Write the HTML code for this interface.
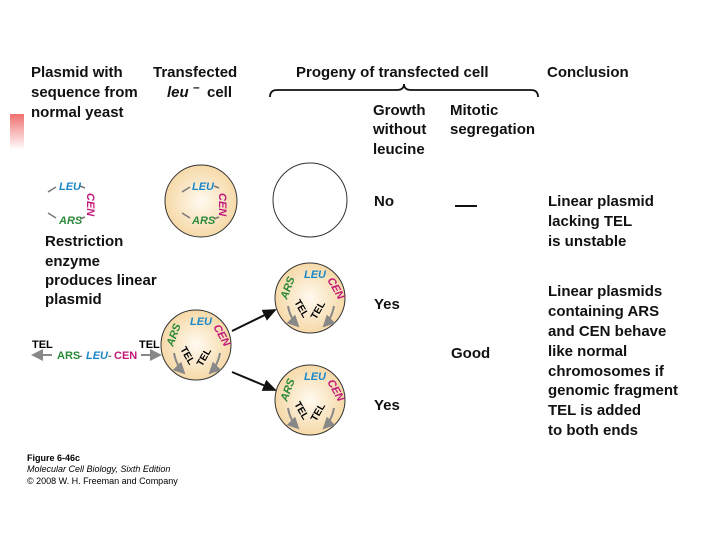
<!DOCTYPE html>
<html><head><style>
body{margin:0;background:#fff}
svg{display:block}
text{font-family:"Liberation Sans",sans-serif;font-weight:bold}
.h{font-size:15px;fill:#111}
.s{font-size:11px;font-style:italic}
.g{fill:#2a8a3a}.b{fill:#1a86c8}.m{fill:#c0177a}
</style></head><body>
<svg width="720" height="540" viewBox="0 0 720 540">
<defs>
<radialGradient id="cg" cx="50%" cy="50%" r="50%"><stop offset="0" stop-color="#fffaf0"/><stop offset="1" stop-color="#f6d9a8"/></radialGradient>
<linearGradient id="rg" x1="0" y1="0" x2="0" y2="1"><stop offset="0" stop-color="#f07070"/><stop offset="1" stop-color="#fff"/></linearGradient>
<marker id="ah" markerWidth="8" markerHeight="8" refX="6" refY="3" orient="auto"><path d="M0,0 L7,3 L0,6 z" fill="#111"/></marker>
<marker id="gh" markerWidth="8" markerHeight="8" refX="5" refY="3" orient="auto"><path d="M0,0 L6,3 L0,6 z" fill="#888"/></marker>
<g id="c1">
<circle cx="0" cy="0" r="35" fill="url(#cg)" stroke="#333"/>
<text x="-23" y="2" class="s g" transform="rotate(-70 -23 2)">ARS</text>
<text x="-6" y="-20" class="s b">LEU</text>
<text x="17" y="-18" class="s m" transform="rotate(60 17 -18)">CEN</text>
<text x="-16" y="4" style="font-size:10px" transform="rotate(60 -16 4)">TEL</text>
<text x="6" y="22" style="font-size:10px" transform="rotate(-60 6 22)">TEL</text>
<path d="M-22,8 Q-20,20 -12,28" fill="none" stroke="#888" stroke-width="2" marker-end="url(#gh)"/>
<path d="M24,8 Q22,20 14,28" fill="none" stroke="#888" stroke-width="2" marker-end="url(#gh)"/>
</g>
</defs>
<rect x="10" y="114" width="14" height="36" fill="url(#rg)"/>
<g class="h">
<text x="31" y="77">Plasmid with</text><text x="31" y="97">sequence from</text><text x="31" y="117">normal yeast</text>
<text x="153" y="77">Transfected</text><text x="167" y="97" font-style="italic">leu</text><text x="193" y="91" font-size="12">–</text><text x="207" y="97">cell</text>
<text x="296" y="77">Progeny of transfected cell</text><text x="547" y="77">Conclusion</text>
<text x="373" y="115">Growth</text><text x="373" y="134">without</text><text x="373" y="154">leucine</text>
<text x="450" y="115">Mitotic</text><text x="450" y="134">segregation</text>
<text x="45" y="246">Restriction</text><text x="45" y="266">enzyme</text><text x="45" y="285">produces linear</text><text x="45" y="304">plasmid</text>
<text x="374" y="206">No</text><text x="374" y="309">Yes</text><text x="374" y="410">Yes</text><text x="451" y="358">Good</text>
<text x="548" y="206">Linear plasmid</text><text x="548" y="226">lacking TEL</text><text x="548" y="246">is unstable</text>
<text x="548" y="296">Linear plasmids</text><text x="548" y="316">containing ARS</text><text x="548" y="336">and CEN behave</text><text x="548" y="356">like normal</text><text x="548" y="376">chromosomes if</text><text x="548" y="395">genomic fragment</text><text x="548" y="415">TEL is added</text><text x="548" y="435">to both ends</text>
</g>
<path d="M270,97 Q270,90 277,90 L397,90 Q404,90 404,84 Q404,90 411,90 L531,90 Q538,90 538,97" fill="none" stroke="#111" stroke-width="1.8"/>
<line x1="455" y1="206" x2="477" y2="206" stroke="#111" stroke-width="2"/>
<g><path d="M48,192 L56,187 M48,213 L56,218 M80,186 L85,188 M80,219 L85,217" stroke="#777" stroke-width="1.5"/>
<text x="59" y="190" class="s b">LEU</text><text x="59" y="224" class="s g">ARS</text>
<text x="87" y="193" class="s m" transform="rotate(90 87 193)">CEN</text></g>
<circle cx="201" cy="201" r="36" fill="url(#cg)" stroke="#333"/>
<g><path d="M182,192 L190,187 M182,213 L190,218 M214,186 L219,188 M214,219 L219,217" stroke="#777" stroke-width="1.5"/>
<text x="192" y="190" class="s b">LEU</text><text x="192" y="224" class="s g">ARS</text>
<text x="219" y="193" class="s m" transform="rotate(90 219 193)">CEN</text></g>
<circle cx="310" cy="200" r="37" fill="#fff" stroke="#333"/>
<line x1="52" y1="355" x2="33" y2="355" stroke="#888" stroke-width="2" marker-end="url(#gh)"/>
<text x="32" y="348" style="font-size:11px">TEL</text>
<text x="57" y="359" class="g" style="font-size:11px">ARS</text><text x="79" y="359" style="font-size:11px;fill:#777">-</text>
<text x="86" y="359" class="s b">LEU</text><text x="108" y="359" style="font-size:11px;fill:#777">-</text>
<text x="114" y="359" class="m" style="font-size:11px">CEN</text>
<text x="139" y="348" style="font-size:11px">TEL</text>
<line x1="141" y1="355" x2="160" y2="355" stroke="#888" stroke-width="2" marker-end="url(#gh)"/>
<use href="#c1" transform="translate(196,345)"/>
<use href="#c1" transform="translate(310,298)"/>
<use href="#c1" transform="translate(310,400)"/>
<line x1="232" y1="331" x2="275" y2="310" stroke="#111" stroke-width="2" marker-end="url(#ah)"/>
<line x1="232" y1="372" x2="275" y2="390" stroke="#111" stroke-width="2" marker-end="url(#ah)"/>
<text x="27" y="461" style="font-size:9px">Figure 6-46c</text>
<text x="27" y="472" style="font-size:9px;font-style:italic;font-weight:normal">Molecular Cell Biology, Sixth Edition</text>
<text x="27" y="484" style="font-size:9px;font-weight:normal">© 2008 W. H. Freeman and Company</text>
</svg>
</body></html>
